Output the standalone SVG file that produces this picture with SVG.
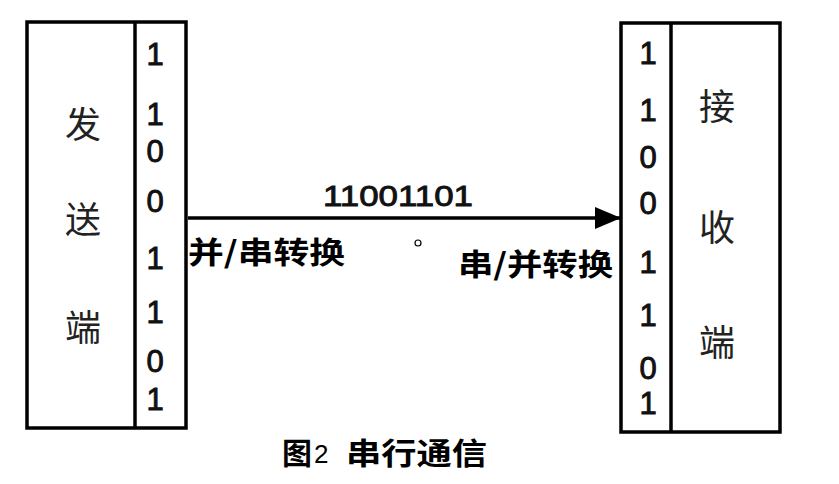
<svg xmlns="http://www.w3.org/2000/svg" width="839" height="484" viewBox="0 0 839 484">
<style>
.box{fill:#fff;stroke:#000;stroke-width:3.5}
.d{font-family:"Liberation Sans",Arial,sans-serif;font-size:31px;fill:#111;stroke:#111;stroke-width:0.9;text-anchor:middle}
.c{font-family:"Noto Sans CJK SC",sans-serif;font-size:36px;fill:#222;text-anchor:middle}
.b{font-family:"Noto Sans CJK SC",sans-serif;font-size:30px;font-weight:bold;fill:#000}
</style>
<defs>
<marker id="ah" markerWidth="26" markerHeight="22" refX="26" refY="11" orient="auto" markerUnits="userSpaceOnUse">
<path d="M0,0 L26,11 L0,22 Z" fill="#000"/>
</marker>
</defs>
<rect width="839" height="484" fill="#fff"/>
<g id="sender">
<rect class="box" x="27" y="22" width="159" height="406"/>
<line x1="135" y1="22" x2="135" y2="428" stroke="#000" stroke-width="3.5"/>
<text class="c" x="83" y="138">发</text>
<text class="c" x="83" y="233">送</text>
<text class="c" x="83" y="341">端</text>
<text class="d" x="155" y="65">1</text>
<text class="d" x="155" y="125">1</text>
<text class="d" x="155" y="162">0</text>
<text class="d" x="155" y="212">0</text>
<text class="d" x="155" y="269">1</text>
<text class="d" x="155" y="323">1</text>
<text class="d" x="155" y="372">0</text>
<text class="d" x="155" y="410">1</text>
</g>
<g id="receiver">
<rect class="box" x="621" y="23" width="159" height="409"/>
<line x1="671" y1="23" x2="671" y2="432" stroke="#000" stroke-width="3.5"/>
<text class="c" x="717" y="120">接</text>
<text class="c" x="717" y="241">收</text>
<text class="c" x="717" y="356">端</text>
<text class="d" x="648" y="64">1</text>
<text class="d" x="648" y="121">1</text>
<text class="d" x="648" y="168">0</text>
<text class="d" x="648" y="214">0</text>
<text class="d" x="648" y="273">1</text>
<text class="d" x="648" y="326">1</text>
<text class="d" x="648" y="379">0</text>
<text class="d" x="648" y="414">1</text>
</g>
<g id="connectors">
<line x1="188" y1="218" x2="621" y2="218" stroke="#000" stroke-width="3.5" marker-end="url(#ah)"/>
</g>
<g id="labels">
<text x="323" y="206" font-family="Liberation Sans,Arial,sans-serif" font-size="30" fill="#111" stroke="#111" stroke-width="0.9" textLength="150" lengthAdjust="spacingAndGlyphs">11001101</text>
<text class="b" x="188" y="263" textLength="157" lengthAdjust="spacingAndGlyphs">并/串转换</text>
<text class="b" x="458" y="275" textLength="155" lengthAdjust="spacingAndGlyphs">串/并转换</text>
<circle cx="418" cy="243" r="3" fill="#fff" stroke="#000" stroke-width="1.2"/>
<text x="282" y="464" font-family="Noto Sans CJK SC,sans-serif" font-size="30" font-weight="bold" fill="#000" textLength="30" lengthAdjust="spacingAndGlyphs">图</text>
<text x="314" y="463" font-family="Liberation Sans,Arial,sans-serif" font-size="26" fill="#000">2</text>
<text x="346" y="464" font-family="Noto Sans CJK SC,sans-serif" font-size="30" font-weight="bold" fill="#000" textLength="141" lengthAdjust="spacingAndGlyphs">串行通信</text>
</g>
</svg>
